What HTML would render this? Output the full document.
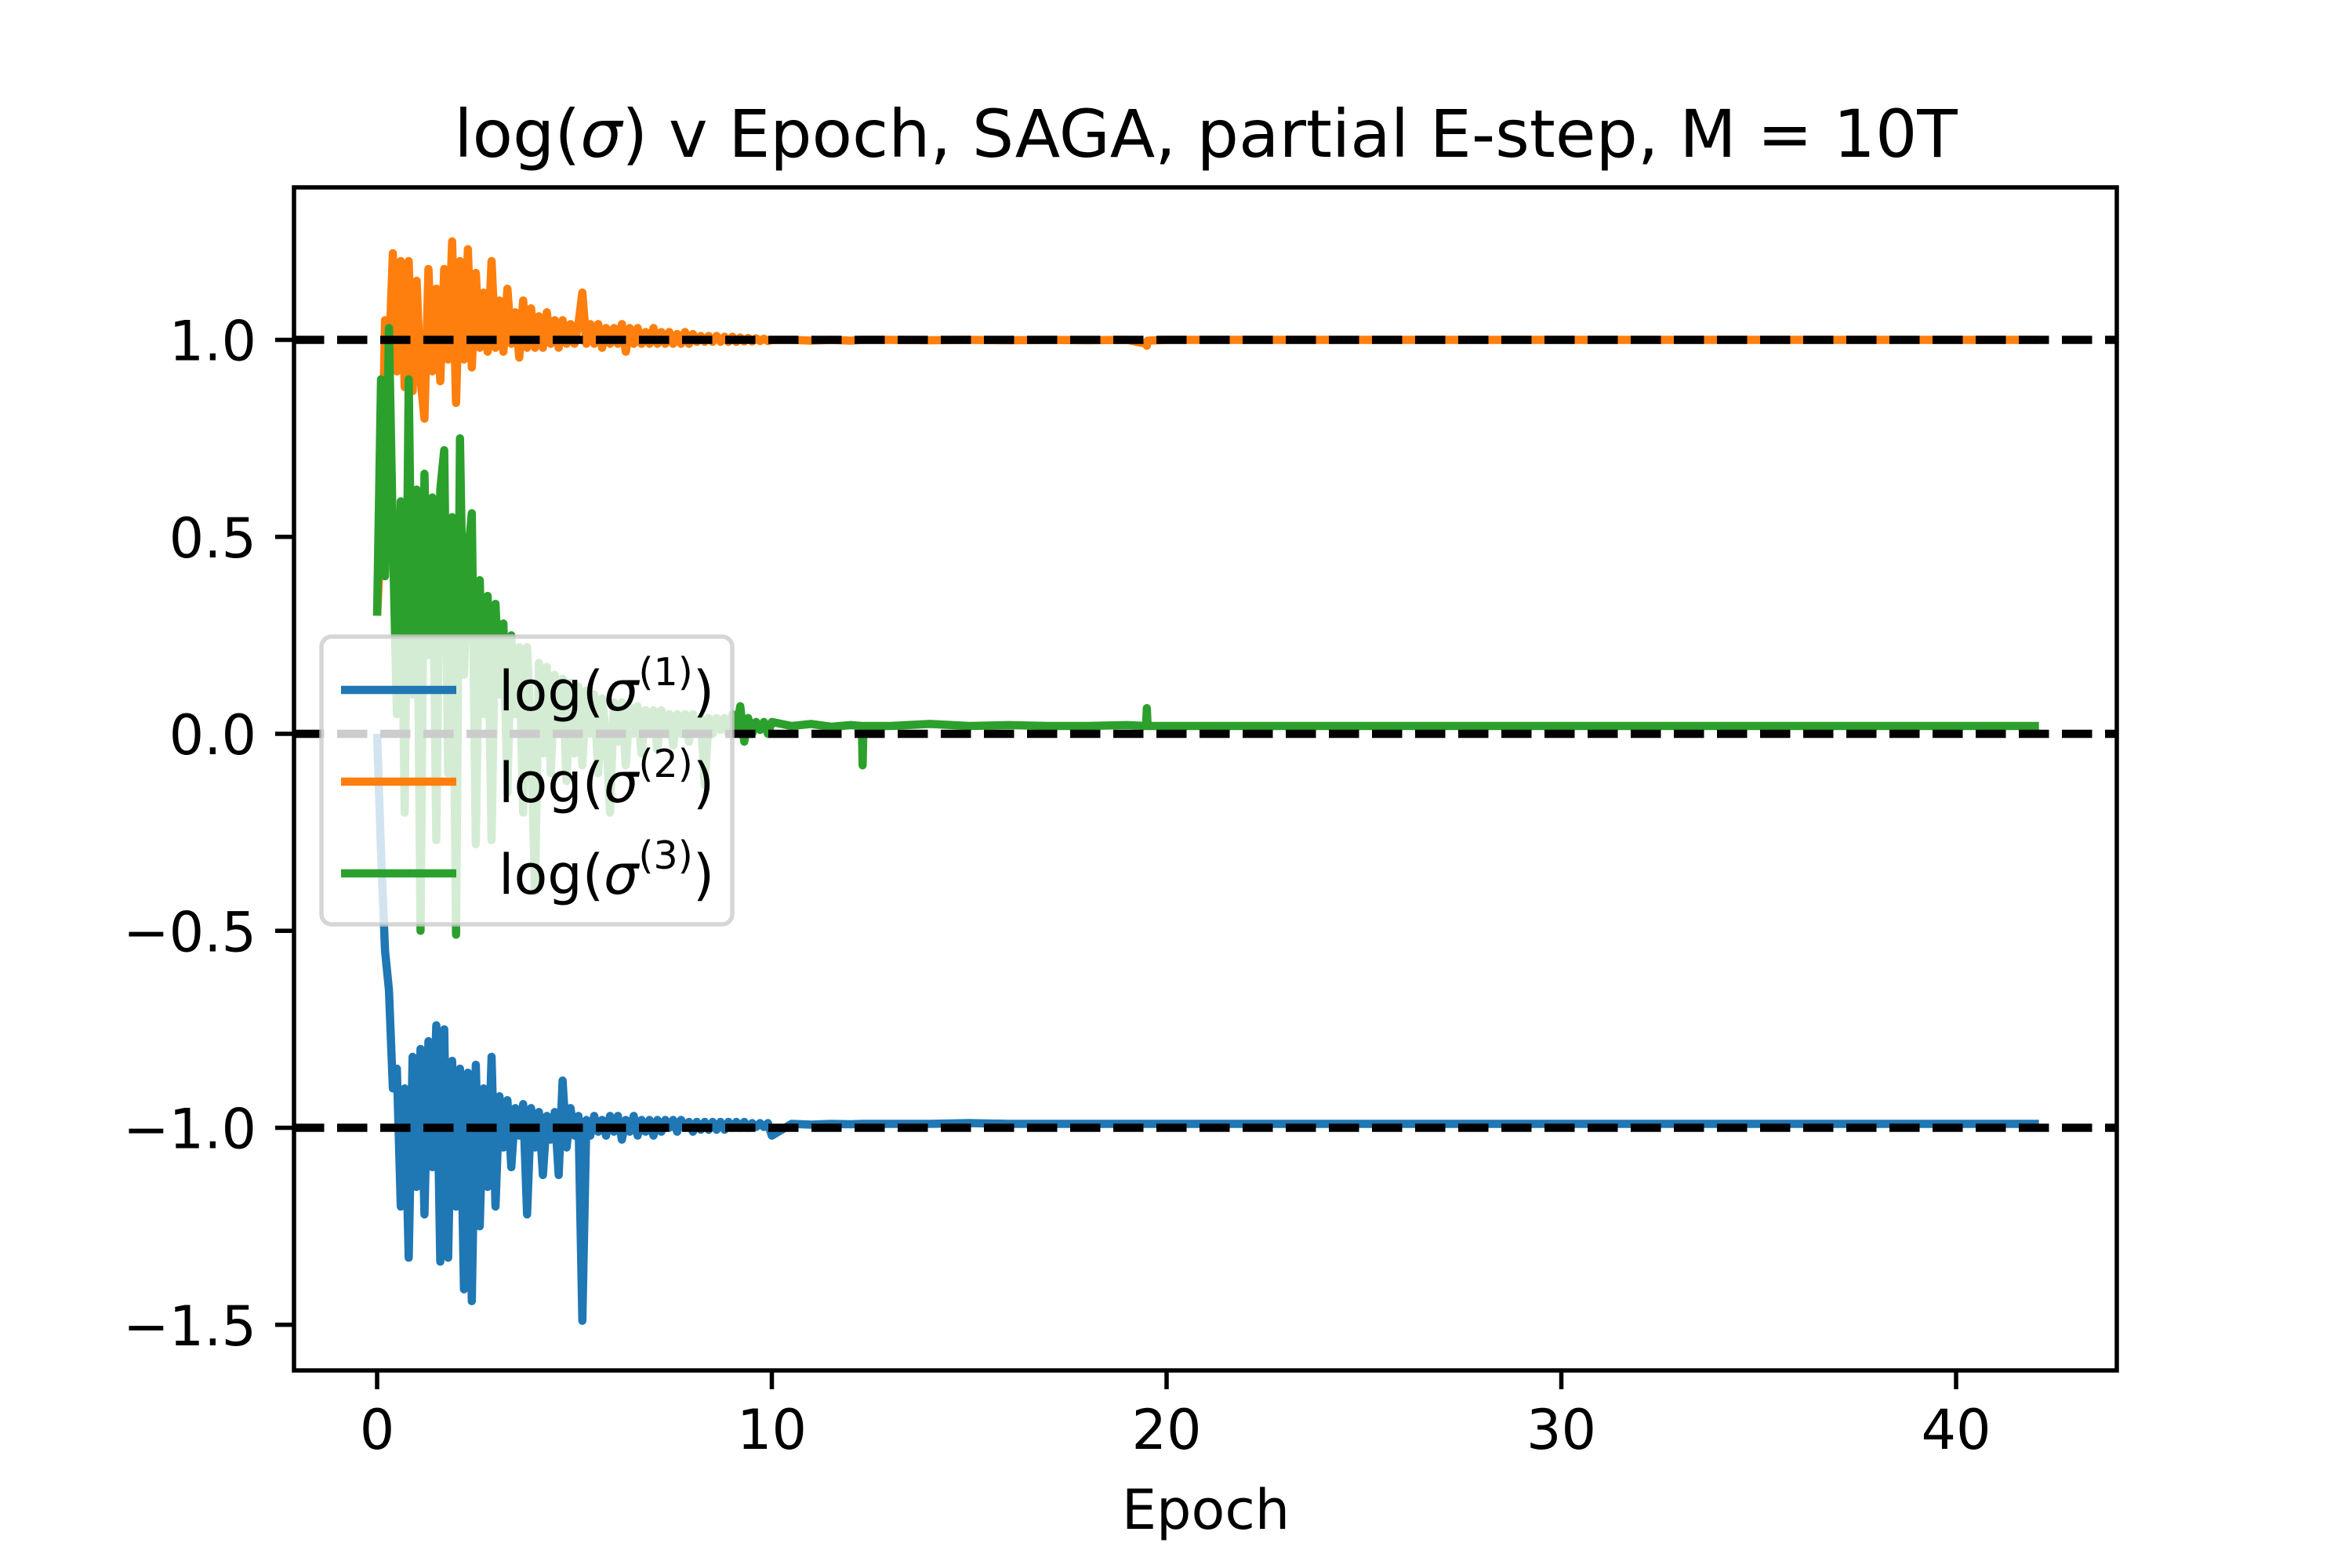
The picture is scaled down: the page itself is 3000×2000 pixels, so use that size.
<!DOCTYPE html>
<html><head><meta charset="utf-8"><style>
html,body{margin:0;padding:0;background:#fff;}
svg{display:block;font-family:"DejaVu Sans","Liberation Sans",sans-serif;}
</style></head><body>
<svg id="chart" width="3000" height="2000" viewBox="0 0 3000 2000" xmlns="http://www.w3.org/2000/svg">
<rect x="0" y="0" width="3000" height="2000" fill="#fff"/>
<text x="1538" y="200" font-size="84" text-anchor="middle">log(<tspan font-style="italic">σ</tspan>) v Epoch, SAGA, partial E-step, M = 10T</text>
<g id="plot"></g>
<text x="1538" y="1950" font-size="70" text-anchor="middle">Epoch</text>
</svg>
<script>
const epochs = [0,0.1,0.2,0.3,0.4,0.5,0.6,0.7,0.8,0.9,1,1.1,1.2,1.3,1.4,1.5,1.6,1.7,1.8,1.9,2,2.1,2.2,2.3,2.4,2.5,2.6,2.7,2.8,2.9,3,3.1,3.2,3.3,3.4,3.5,3.6,3.7,3.8,3.9,4,4.1,4.2,4.3,4.4,4.5,4.6,4.7,4.8,4.9,5,5.1,5.2,5.3,5.4,5.5,5.6,5.7,5.8,5.9,6,6.1,6.2,6.3,6.4,6.5,6.6,6.7,6.8,6.9,7,7.1,7.2,7.3,7.4,7.5,7.6,7.7,7.8,7.9,8,8.1,8.2,8.3,8.4,8.5,8.6,8.7,8.8,8.9,9,9.1,9.2,9.3,9.4,9.5,9.6,9.7,9.8,9.9,10,
10.5,11,11.5,12,12.28,12.3,12.32,13,14,15,16,17,18,19,19.48,19.5,19.52,20,22,25,30,35,40,42.1];
const sigma1 = [0,-0.3,-0.55,-0.65,-0.9,-0.85,-1.2,-0.9,-1.33,-0.82,-1.15,-0.8,-1.22,-0.78,-1.1,-0.74,-1.34,-0.75,-1.33,-0.83,-1.2,-0.85,-1.41,-0.86,-1.44,-0.84,-1.25,-0.9,-1.15,-0.82,-1.2,-0.92,-1.05,-0.93,-1.1,-0.95,-1.02,-0.94,-1.22,-0.95,-1.05,-0.96,-1.12,-0.97,-1.03,-0.96,-1.12,-0.88,-1.05,-0.95,-1.02,-0.97,-1.49,-0.98,-1.02,-0.97,-1.01,-0.98,-1.02,-0.97,-1.01,-0.97,-1.03,-0.98,-1.01,-0.97,-1.02,-0.98,-1.01,-0.98,-1.02,-0.98,-1.01,-0.98,-1,-0.98,-1.01,-0.98,-1,-0.985,-1.01,-0.985,-1.005,-0.985,-1.005,-0.985,-1.005,-0.985,-1.005,-0.985,-1.0,-0.985,-1.0,-0.985,-1.0,-0.988,-0.998,-0.988,-0.998,-0.988,-1.02,
-0.99,-0.992,-0.99,-0.991,-0.99,-0.99,-0.99,-0.99,-0.99,-0.988,-0.99,-0.99,-0.99,-0.99,-0.99,-0.99,-0.99,-0.99,-0.99,-0.99,-0.99,-0.99,-0.99,-0.99];
const sigma2 = [0.3,0.5,1.05,0.95,1.22,0.92,1.2,0.88,1.2,0.87,1.15,0.9,0.8,1.18,0.92,1.13,0.895,1.18,0.95,1.25,0.84,1.2,0.95,1.23,0.93,1.17,0.98,1.12,0.97,1.2,0.98,1.1,0.97,1.13,0.99,1.07,0.955,1.1,0.98,1.08,0.98,1.06,0.98,1.07,0.99,1.05,0.98,1.05,0.99,1.04,0.99,1.04,1.12,0.99,1.04,0.99,1.04,0.98,1.03,0.99,1.03,0.99,1.04,0.97,1.03,0.99,1.03,0.99,1.02,0.99,1.03,0.99,1.02,0.99,1.02,0.99,1.015,0.99,1.02,0.99,1.015,0.995,1.01,0.995,1.01,0.995,1.01,0.995,1.008,0.995,1.008,0.995,1.006,0.996,1.005,0.996,1.004,0.997,1.003,0.997,1.0,
1.0,0.998,1.0,0.998,1.0,1.0,1.0,1.0,0.999,1.0,0.999,1.0,0.999,1.0,0.99,0.985,0.998,1.0,1.0,1.0,1.0,1.0,1.0,1.0];
const sigma3 = [0.3,0.9,0.4,1.03,0.5,0.05,0.59,-0.2,0.9,0.1,0.62,-0.5,0.66,0.2,0.6,-0.27,0.62,0.72,-0.1,0.55,-0.51,0.75,0.15,0.45,0.56,-0.28,0.39,0.05,0.35,-0.27,0.33,0.1,0.28,-0.15,0.25,0.05,0.22,-0.2,0.22,0,-0.4,0.18,-0.05,0.17,-0.1,0.15,0,0.14,-0.12,0.13,-0.05,0.12,-0.08,0.11,0,0.1,-0.1,0.09,0,-0.2,0.08,-0.02,0.08,-0.08,0.07,0,0.07,-0.05,0.06,0,0.06,-0.04,0.06,0,0.05,-0.03,0.05,0,0.05,-0.02,0.05,0,0.04,-0.13,0.04,0,0.04,0.01,0.04,0,0.05,0.01,0.07,-0.02,0.04,0,0.03,0.01,0.03,0,0.03,
0.02,0.025,0.018,0.022,0.02,-0.08,0.02,0.02,0.025,0.02,0.022,0.02,0.02,0.022,0.02,0.065,0.02,0.02,0.02,0.02,0.02,0.02,0.02,0.02];
const refLevels = [1.0, 0.0, -1.0];
const xTicks = [0,10,20,30,40];
const yTicks = [1.0,0.5,0.0,-0.5,-1.0,-1.5];
const yTickLabels = ["1.0","0.5","0.0","−0.5","−1.0","−1.5"];

const L=375,R=2700,T=239,B=1748;
const X0=481, XS=50.35;
const Y0=936, YS=502.5;
const xs = v => X0 + v*XS;
const ys = v => Y0 - v*YS;
const NS="http://www.w3.org/2000/svg";
const plot=document.getElementById('plot');
function mk(tag, attrs, parent){const e=document.createElementNS(NS,tag);for(const k in attrs)e.setAttribute(k,attrs[k]);(parent||plot).appendChild(e);return e;}

const clip=mk('clipPath',{id:'clip'});
mk('rect',{x:L,y:T,width:R-L,height:B-T},clip);

const colors=["#1f77b4","#ff7f0e","#2ca02c"];
const data=[sigma1,sigma2,sigma3];
const lineKeys=["series-sigma1-line","series-sigma2-line","series-sigma3-line"];
data.forEach((s,i)=>{
  const d=s.map((v,j)=>(j?'L':'M')+xs(epochs[j]).toFixed(1)+' '+ys(v).toFixed(1)).join(' ');
  const p=mk('path',{d:d,fill:'none',stroke:colors[i],'stroke-width':10.5,'stroke-linejoin':'round','clip-path':'url(#clip)'});
  
  
});
refLevels.forEach(v=>{
  const l=mk('line',{x1:L,x2:R,y1:ys(v),y2:ys(v),stroke:'#000','stroke-width':10.5,'stroke-dasharray':'38.5 16.5'});
  
  
});
const frame=mk('rect',{x:L,y:T,width:R-L,height:B-T,fill:'none',stroke:'#000','stroke-width':5.5});


xTicks.forEach(v=>{
  const t=mk('line',{x1:xs(v),x2:xs(v),y1:B,y2:B+24,stroke:'#000','stroke-width':5.5});
  
  
  const tx=mk('text',{x:xs(v),y:B+100,'font-size':70,'text-anchor':'middle'});
  tx.textContent=String(v);
  
  
});
yTicks.forEach((v,i)=>{
  const t=mk('line',{x1:L-24,x2:L,y1:ys(v),y2:ys(v),stroke:'#000','stroke-width':5.5});
  
  
  const tx=mk('text',{x:L-48,y:ys(v)+26,'font-size':70,'text-anchor':'end'});
  tx.textContent=yTickLabels[i];
  
  
});
const lg=mk('g',{});


mk('rect',{x:410,y:812,width:524,height:367,rx:13,fill:'#fff','fill-opacity':0.8,stroke:'#cccccc','stroke-opacity':0.8,'stroke-width':5.5},lg);
const ly=[880,997,1114];
[1,2,3].forEach((n,i)=>{
  const ln=mk('line',{x1:435,x2:582,y1:ly[i],y2:ly[i],stroke:colors[i],'stroke-width':10.5},lg);
  
  
  const t=mk('text',{x:636,y:ly[i]+26,'font-size':70},lg);
  
  
  t.innerHTML='log(<tspan font-style="italic">σ</tspan><tspan font-size="49" dy="-32">('+n+')</tspan><tspan dy="32">)</tspan>';
});
</script>
</body></html>
